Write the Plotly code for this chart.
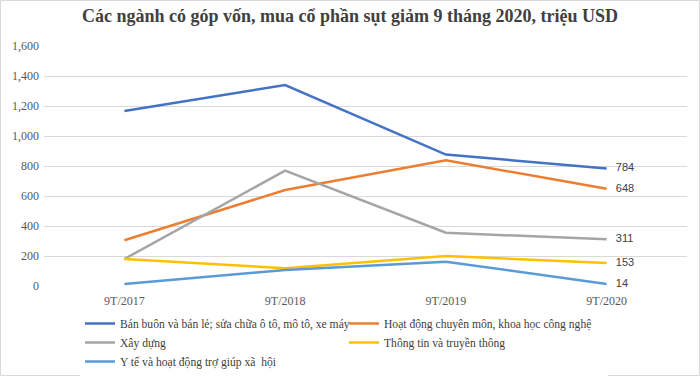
import plotly.graph_objects as go

categories = ["9T/2017", "9T/2018", "9T/2019", "9T/2020"]
series_names = [
    "Bán buôn và bán lẻ; sửa chữa ô tô, mô tô, xe máy",
    "Hoạt động chuyên môn, khoa học công nghệ",
    "Xây dựng",
    "Thông tin và truyền thông",
    "Y tế và hoạt động trợ giúp xã  hội",
]
ban_buon = [1167, 1340, 876, 784]
hoat_dong = [305, 640, 838, 648]
xay_dung = [180, 769, 355, 311]
thong_tin = [180, 118, 200, 153]
y_te = [13, 107, 162, 14]
colors = ["#4472C4", "#ED7D31", "#A5A5A5", "#FFC000", "#5B9BD5"]

all_values = [ban_buon, hoat_dong, xay_dung, thong_tin, y_te]

fig = go.Figure()
for name, vals, col in zip(series_names, all_values, colors):
    labels = [""] * (len(vals) - 1) + [f"   {vals[-1]}"]
    fig.add_trace(go.Scatter(
        x=categories, y=vals, name=name, mode="lines+text",
        line=dict(color=col, width=2.5),
        text=labels, textposition="middle right",
        textfont=dict(family="Liberation Sans, Arial", size=11, color="#404040"),
        cliponaxis=False,
    ))

L, R, T, B = 44, 13, 46, 90
W, H = 700, 376
pw, ph = W - L - R, H - T - B

def px_x(p):
    return (p - L) / pw

def px_y(p):
    return (H - B - p) / ph

fig.update_layout(
    width=W, height=H,
    margin=dict(l=L, r=R, t=T, b=B, pad=0, autoexpand=False),
    paper_bgcolor="white", plot_bgcolor="white",
    title=dict(
        text="<b>Các ngành có góp vốn, mua cổ phần sụt giảm 9 tháng 2020, triệu USD</b>",
        x=0.5, xanchor="center", y=1 - 16 / H, yanchor="middle",
        font=dict(family="Liberation Serif, Times New Roman", size=18, color="#404040"),
    ),
    xaxis=dict(
        range=[-0.5, 3.5], showgrid=False, zeroline=False, showline=False,
        ticks="", ticklabelstandoff=6,
        tickfont=dict(family="Liberation Serif, Times New Roman", size=12, color="#595959"),
    ),
    yaxis=dict(
        range=[0, 1600], dtick=200, tickformat=",", showgrid=True,
        gridcolor="#D9D9D9", gridwidth=1, zeroline=False, showline=False,
        ticks="", ticklen=0, ticklabelstandoff=4,
        tickfont=dict(family="Liberation Serif, Times New Roman", size=12, color="#595959"),
    ),
    showlegend=True,
    legend=dict(
        orientation="h", xref="container", x=80 / W, xanchor="left",
        yref="container", y=1 - 309 / H, yanchor="top",
        entrywidth=219, entrywidthmode="pixels", tracegroupgap=0,
        font=dict(family="Liberation Serif, Times New Roman", size=11.6, color="#404040"),
        itemwidth=30,
    ),
    shapes=[dict(
        type="rect", xref="paper", yref="paper",
        x0=px_x(0.5), x1=px_x(W - 0.5), y0=px_y(H - 0.5), y1=px_y(0.5),
        line=dict(color="#D9D9D9", width=1), fillcolor="rgba(0,0,0,0)", layer="below",
    )],
)

fig.write_html(
    "out.html",
    config={"displayModeBar": False},
    post_script="document.body.style.margin='0';document.body.style.overflow='hidden';",
)
